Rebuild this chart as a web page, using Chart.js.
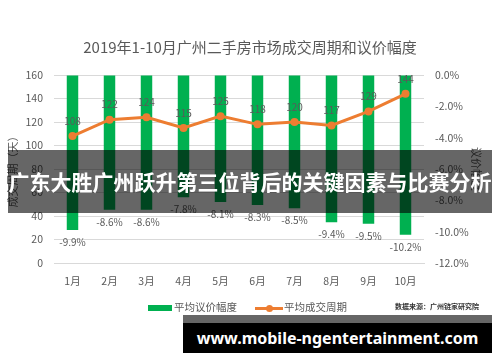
<!DOCTYPE html>
<html>
<head>
<meta charset="utf-8">
<script src="https://cdn.jsdelivr.net/npm/chart.js@4/dist/chart.umd.min.js"></script>
<style>
  body { margin: 0; background: #fff; }
  #wrap { position: relative; width: 500px; height: 362px; font-family: "Noto Sans CJK SC", sans-serif; }
  canvas { position: absolute; left: 0; top: 0; }
  .legend { position: absolute; top: 299px; font-size: 10.5px; color: #595959; line-height: 16px; white-space: nowrap; }
  .swatch { position: absolute; }
  .source { position: absolute; left: 395px; top: 301px; font-size: 7px; color: #333; font-weight: bold; white-space: nowrap; }
  .banner { position: absolute; left: 8px; top: 150px; width: 484px; height: 63px; background: rgba(0,0,0,0.6);
            color: #fff; font-weight: bold; font-size: 21px; line-height: 63px; text-align: center; white-space: nowrap; }
  .strip { position: absolute; left: 183px; top: 315px; width: 309px; height: 8px; background: #666; }
  .site { position: absolute; left: 183px; top: 323px; width: 309px; height: 30px; background: #000; color: #fff;
          font-family: "Noto Sans", sans-serif; font-weight: bold; font-size: 16px; line-height: 30px; text-align: center; white-space: nowrap; }
</style>
</head>
<body>
<div id="wrap">
  <canvas id="chart" width="500" height="362"></canvas>
  <div class="swatch" style="left:148px;top:305px;width:24px;height:6px;background:#00B050;"></div>
  <div class="legend" style="left:174px;">平均议价幅度</div>
  <div class="swatch" style="left:255px;top:307px;width:28px;height:3px;background:#ED7D31;"></div>
  <div class="swatch" style="left:266px;top:305px;width:7px;height:7px;border-radius:50%;background:#ED7D31;"></div>
  <div class="legend" style="left:284px;">平均成交周期</div>
  <div class="source">数据来源：广州链家研究院</div>
  <div class="banner">广东大胜广州跃升第三位背后的关键因素与比赛分析</div>
  <div class="strip"></div>
  <div class="site">www.mobile-ngentertainment.com</div>
</div>
<script>
// 数据
const months = ['1月', '2月', '3月', '4月', '5月', '6月', '7月', '8月', '9月', '10月'];
const bargainRate = [-9.9, -8.6, -8.6, -7.8, -8.1, -8.3, -8.5, -9.4, -9.5, -10.2]; // 平均议价幅度 (%)
const dealCycle = [108, 122, 124, 115, 125, 118, 120, 117, 129, 144];             // 平均成交周期 (天)
const leftTicks = { min: 0, max: 160, step: 20 };
const rightTicks = { min: -12, max: 0, step: 2 };

const grey = '#595959';
const cjk = '"Noto Sans CJK SC", sans-serif';

// 数据标签
const valueLabels = {
  id: 'valueLabels',
  afterDatasetsDraw(chart) {
    const ctx = chart.ctx;
    ctx.save();
    ctx.font = '10px ' + cjk;
    ctx.fillStyle = grey;
    ctx.textAlign = 'center';
    ctx.textBaseline = 'middle';
    chart.getDatasetMeta(0).data.forEach((el, i) => {
      ctx.fillText(bargainRate[i].toFixed(1) + '%', el.x, el.y + 12);
    });
    chart.getDatasetMeta(1).data.forEach((el, i) => {
      ctx.fillText(dealCycle[i], el.x, el.y - 15);
    });
    ctx.restore();
  }
};

new Chart(document.getElementById('chart').getContext('2d'), {
  data: {
    labels: months,
    datasets: [{
      type: 'bar',
      label: '平均议价幅度',
      data: bargainRate,
      yAxisID: 'y1',
      backgroundColor: '#00B050',
      barPercentage: 0.62,
      categoryPercentage: 0.5,
      order: 1
    }, {
      type: 'line',
      label: '平均成交周期',
      data: dealCycle,
      yAxisID: 'y',
      borderColor: '#ED7D31',
      backgroundColor: '#ED7D31',
      borderWidth: 3,
      pointRadius: 4,
      pointBorderWidth: 0,
      tension: 0,
      order: 0
    }]
  },
  options: {
    responsive: false,
    animation: false,
    layout: { padding: 0 },
    plugins: {
      legend: { display: false },
      tooltip: { enabled: false },
      title: {
        display: true,
        text: '2019年1-10月广州二手房市场成交周期和议价幅度',
        color: grey,
        font: { family: cjk, size: 15, weight: 'normal' },
        padding: { top: 38, bottom: 19 }
      }
    },
    scales: {
      x: {
        afterFit: s => { s.height = 99; },
        grid: { display: false, drawTicks: false },
        border: { color: '#D9D9D9' },
        ticks: { color: grey, font: { family: cjk, size: 10.5 }, padding: 12 }
      },
      y: {
        position: 'left',
        min: leftTicks.min, max: leftTicks.max,
        afterFit: s => { s.width = 54; },
        grid: { color: '#D9D9D9', drawTicks: false },
        border: { display: false },
        ticks: { stepSize: leftTicks.step, color: grey, font: { family: cjk, size: 10.5 }, padding: 11 },
        title: { display: true, text: '成交周期（天）', color: grey, font: { family: cjk, size: 11 }, padding: { top: 6, bottom: 0 } }
      },
      y1: {
        position: 'right',
        min: rightTicks.min, max: rightTicks.max,
        afterFit: s => { s.width = 76; },
        grid: { drawOnChartArea: false, drawTicks: false },
        border: { display: false },
        ticks: { stepSize: rightTicks.step, color: grey, font: { family: cjk, size: 10.5 }, padding: 11,
                 callback: v => v.toFixed(1) + '%' },
        title: { display: true, text: '议价幅度', color: grey, font: { family: cjk, size: 11 }, padding: { top: 17, bottom: 0 } }
      }
    }
  },
  plugins: [valueLabels]
});
</script>
</body>
</html>
